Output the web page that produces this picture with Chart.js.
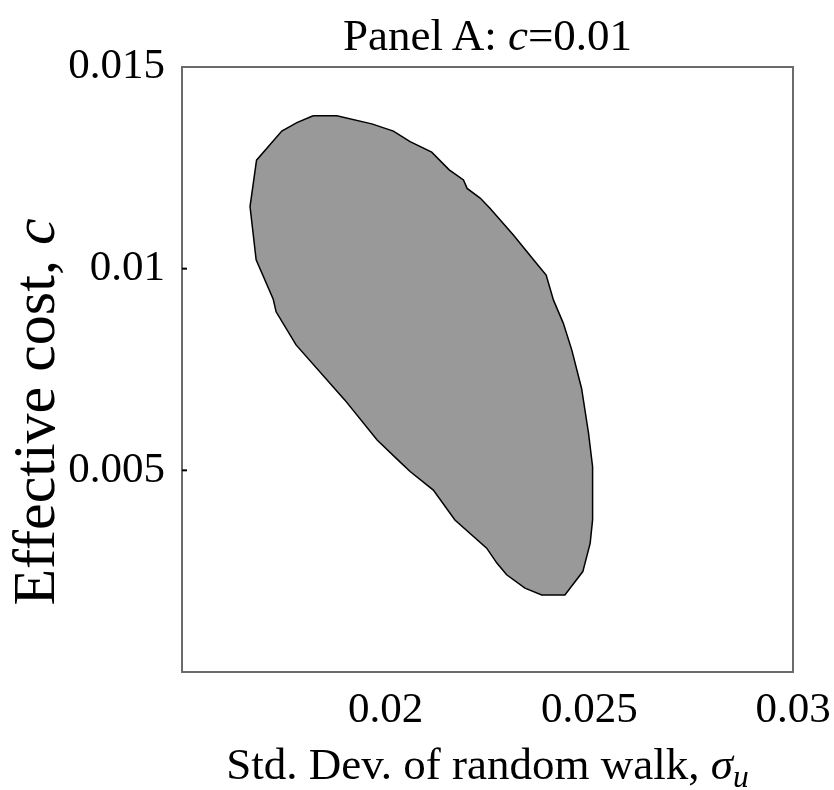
<!DOCTYPE html>
<html>
<head>
<meta charset="utf-8">
<script src="https://cdn.jsdelivr.net/npm/chart.js@4.4.0/dist/chart.umd.min.js"></script>
<style>
  body { margin: 0; background: #fff; }
  #wrap { position: relative; width: 834px; height: 790px; font-family: "Liberation Serif", "DejaVu Serif", serif; color: #000; }
  .lbl { position: absolute; white-space: nowrap; font-size: 45px; line-height: 45px; }
  #title { left: 182px; width: 611px; top: 13px; text-align: center; }
  #xtitle { left: 182px; width: 611px; top: 742px; text-align: center; }
  #ytitle { left: -216px; top: 382px; width: 500px; height: 60px; font-size: 60px; line-height: 60px; text-align: center; transform: rotate(-90deg); }
  sub { font-size: 0.7em; vertical-align: -0.25em; line-height: 0; }
</style>
</head>
<body>
<div id="wrap">
  <canvas id="region"></canvas>
  <div class="lbl" id="title">Panel A: <i>c</i>=0.01</div>
  <div class="lbl" id="xtitle">Std. Dev. of random walk, <i>σ<sub>u</sub></i></div>
  <div class="lbl" id="ytitle">Effective cost, <i>c</i></div>
</div>
<script>
// outline of the shaded region, traced clockwise from the top
const sigmaU = [0.01822, 0.01880, 0.01966, 0.02019, 0.02060, 0.02113, 0.02156, 0.02191, 0.02200, 0.02232,
  0.02256, 0.02313, 0.02367, 0.02394, 0.02412, 0.02436, 0.02457, 0.02481, 0.02498, 0.02508,
  0.02508, 0.02502, 0.02484, 0.02440, 0.02383, 0.02342, 0.02297, 0.02273, 0.02248, 0.02170,
  0.02117, 0.02060, 0.02035, 0.01979, 0.01900, 0.01780, 0.01731, 0.01724, 0.01682, 0.01667,
  0.01683, 0.01745, 0.01782];
const effCost = [0.01379, 0.01379, 0.01359, 0.01341, 0.01315, 0.01289, 0.01245, 0.01220, 0.01199, 0.01175,
  0.01150, 0.01084, 0.01017, 0.00984, 0.00922, 0.00865, 0.00798, 0.00703, 0.00592, 0.00509,
  0.00377, 0.00319, 0.00249, 0.00191, 0.00191, 0.00208, 0.00241, 0.00270, 0.00307, 0.00377,
  0.00451, 0.00497, 0.00521, 0.00575, 0.00674, 0.00811, 0.00893, 0.00924, 0.01022, 0.01154,
  0.01269, 0.01341, 0.01362];

const xTickValues = [0.02, 0.025, 0.03];
const xTickLabels = ['0.02', '0.025', '0.03'];
const yTickValues = [0.005, 0.01, 0.015];
const yTickLabels = ['0.005', '0.01', '0.015'];

const points = sigmaU.map((x, i) => ({ x: x, y: effCost[i] }));
points.push(points[0]);

const frame = {
  id: 'frame',
  afterDatasetsDraw(chart) {
    const { ctx, chartArea: a, scales: { y } } = chart;
    ctx.save();
    ctx.strokeStyle = '#6b6b6b';
    ctx.lineWidth = 2;
    ctx.strokeRect(a.left, a.top, a.right - a.left, a.bottom - a.top);
    ctx.strokeStyle = '#000';
    yTickValues.forEach(v => {
      if (v >= y.max) return;
      const py = y.getPixelForValue(v);
      ctx.beginPath();
      ctx.moveTo(a.left, py);
      ctx.lineTo(a.left + 5, py);
      ctx.stroke();
    });
    ctx.restore();
  }
};

const tickFont = { family: '"Liberation Serif", serif', size: 43 };

new Chart(document.getElementById('region'), {
  type: 'scatter',
  data: {
    datasets: [{
      data: points,
      showLine: true,
      fill: 'shape',
      backgroundColor: '#999999',
      borderColor: '#000',
      borderWidth: 1.5,
      pointRadius: 0,
      tension: 0
    }]
  },
  options: {
    responsive: true,
    maintainAspectRatio: false,
    animation: false,
    layout: { padding: { top: 67, right: 41, left: 0, bottom: 0 } },
    plugins: { legend: { display: false }, tooltip: { enabled: false } },
    scales: {
      x: {
        type: 'linear', min: 0.015, max: 0.03,
        grid: { display: false, drawTicks: false },
        border: { display: false },
        afterBuildTicks: s => { s.ticks = xTickValues.map(v => ({ value: v })); },
        afterFit: s => { s.height = 118; s.paddingLeft = 0; s.paddingRight = 0; },
        ticks: { color: '#000', font: tickFont, padding: 13, maxRotation: 0, autoSkip: false,
          callback: (v, i) => xTickLabels[i] }
      },
      y: {
        type: 'linear', min: 0, max: 0.015,
        grid: { display: false, drawTicks: false },
        border: { display: false },
        afterBuildTicks: s => { s.ticks = yTickValues.map(v => ({ value: v })); },
        afterFit: s => { s.width = 182; s.paddingTop = 0; s.paddingBottom = 0; },
        ticks: { color: '#000', font: tickFont, padding: 17, autoSkip: false,
          callback: (v, i) => yTickLabels[i] }
      }
    }
  },
  plugins: [frame]
});
</script>
</body>
</html>
